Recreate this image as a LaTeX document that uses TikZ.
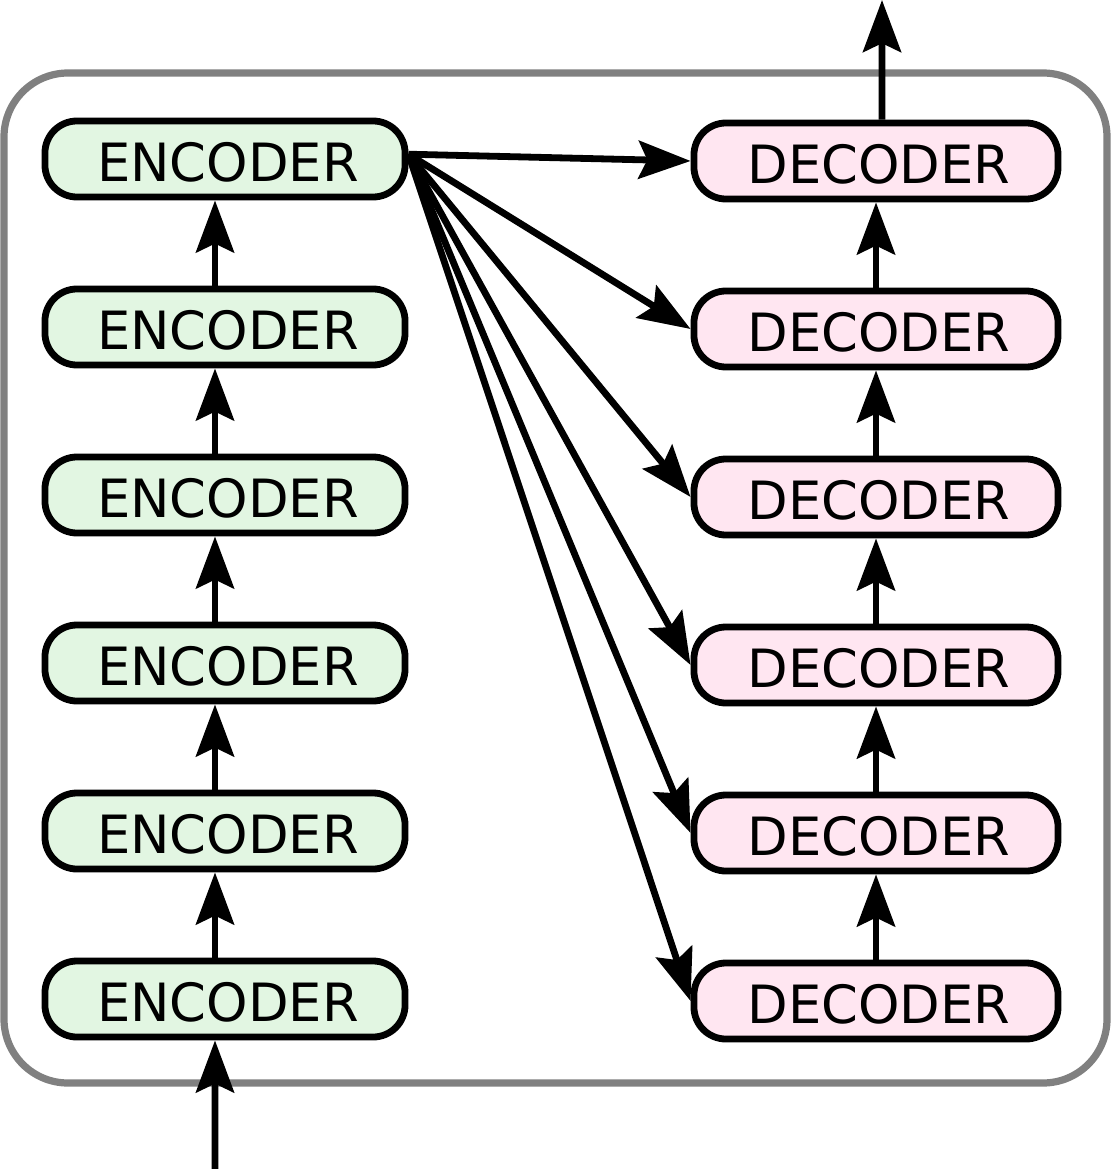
\documentclass[tikz,border=0pt]{standalone}
\usepackage{fontspec}
\setmainfont{DejaVu Sans}
\usepackage{tikz}
\usetikzlibrary{arrows.meta}
\usetikzlibrary{calc}

\definecolor{vertclair}{RGB}{226,246,226}
\definecolor{roseclair}{RGB}{255,230,241}

\begin{document}
\begin{tikzpicture}[x=0.025cm,y=-0.025cm,
    bloc/.style={draw=black, line width=0.17cm, rounded corners=0.8cm,
        minimum height=1.9cm, inner sep=0pt, text height=1.1cm, text depth=0pt,
        font=\fontsize{37.5}{45}\selectfont, execute at begin node=\hspace{0.15cm}},
    encodeur/.style={bloc, fill=vertclair, minimum width=9cm},
    decodeur/.style={bloc, fill=roseclair, minimum width=9.1cm},
    fleche/.style={line width=0.17cm, -{Stealth[length=1.3cm,width=0.95cm,inset=0.22cm]}},
    cadre/.style={draw=gray, line width=0.18cm, rounded corners=1.6cm}]
            \useasboundingbox (0,0) rectangle (1112,1169);
            \draw[cadre] (4,73) rectangle (1107,1083);

            \foreach \i in {1,...,6} {
                \node[encodeur] (E\i) at (225,{159+168*(6-\i)}) {ENCODER};
                \node[decodeur] (D\i) at (876,{161+168*(6-\i)}) {DECODER};
            }

            \foreach \i [count=\j from 2] in {1,...,5} {
                \draw[fleche] ([xshift=-0.25cm]E\i.north) -- ([xshift=-0.25cm]E\j.south);
                \draw[fleche] (D\i.north) -- (D\j.south);
            }

            \foreach \i in {1,...,6}
                \draw[fleche] ([yshift=0.12cm]E6.east) -- (D\i.west);

            \coordinate (entree) at (215,1169);
            \coordinate (sortie) at (882,0);
            \draw[fleche] (entree) -- ([xshift=-0.25cm]E1.south);
            \draw[fleche] ([xshift=0.15cm]D6.north) -- (sortie);
        \end{tikzpicture}
\end{document}
